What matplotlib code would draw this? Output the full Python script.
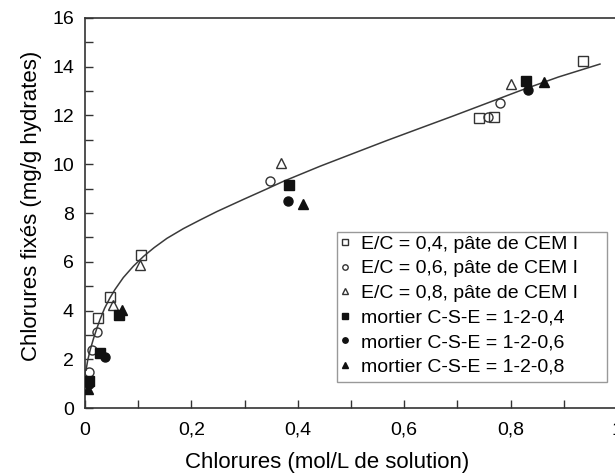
import matplotlib.pyplot as plt
import matplotlib.patches as patches
from matplotlib.ticker import MultipleLocator, FuncFormatter

plt.rcParams['font.family'] = ['Liberation Sans', 'DejaVu Sans']

# -------------------------------------------------
# Data
# -------------------------------------------------
ec04_x = [0.025, 0.047, 0.105, 0.741, 0.769, 0.937]
ec04_y = [3.68, 4.54, 6.28, 11.89, 11.93, 14.24]

ec06_x = [0.008, 0.014, 0.022, 0.348, 0.757, 0.781]
ec06_y = [1.49, 2.38, 3.13, 9.33, 11.93, 12.50]

ec08_x = [0.053, 0.103, 0.368, 0.800]
ec08_y = [4.23, 5.87, 10.04, 13.28]

m04_x = [0.007, 0.029, 0.063, 0.384, 0.829]
m04_y = [1.10, 2.24, 3.82, 9.15, 13.40]

m06_x = [0.008, 0.038, 0.382, 0.833]
m06_y = [1.00, 2.11, 8.48, 13.03]

m08_x = [0.006, 0.069, 0.410, 0.863]
m08_y = [0.80, 4.02, 8.37, 13.36]

# fitted curve, read point by point
curve_x = [0.002, 0.005, 0.010, 0.016, 0.022, 0.028, 0.037, 0.047, 0.056,
           0.072, 0.091, 0.110, 0.130, 0.154, 0.185, 0.216, 0.248, 0.298,
           0.340, 0.373, 0.442, 0.505, 0.567, 0.630, 0.692, 0.755, 0.818,
           0.890, 0.968]
curve_y = [1.55, 1.95, 2.40, 2.85, 3.25, 3.62, 4.10, 4.52, 4.85,
           5.35, 5.82, 6.22, 6.58, 6.96, 7.36, 7.71, 8.06, 8.56,
           8.97, 9.30, 9.92, 10.45, 10.97, 11.48, 11.98, 12.50, 13.02,
           13.58, 14.11]

labels = [
    'E/C = 0,4, pâte de CEM I',
    'E/C = 0,6, pâte de CEM I',
    'E/C = 0,8, pâte de CEM I',
    'mortier C-S-E = 1-2-0,4',
    'mortier C-S-E = 1-2-0,6',
    'mortier C-S-E = 1-2-0,8',
]

# -------------------------------------------------
# Figure
# -------------------------------------------------
fig = plt.figure(figsize=(6.15, 4.73), dpi=100)
ax = fig.add_axes([85 / 615, 65 / 473, 532 / 615, 390 / 473])

line_col = '#3a3a3a'
open_col = '#333333'
fill_col = '#111111'

ax.plot(curve_x, curve_y, color=line_col, lw=1.1, zorder=2)

series = [
    (ec04_x, ec04_y, 's', 'none'),
    (ec06_x, ec06_y, 'o', 'none'),
    (ec08_x, ec08_y, '^', 'none'),
    (m04_x, m04_y, 's', fill_col),
    (m06_x, m06_y, 'o', fill_col),
    (m08_x, m08_y, '^', fill_col),
]
for (xs, ys, mk, fc), lab in zip(series, labels):
    ax.plot(xs, ys, linestyle='none', marker=mk, markersize=6.5,
            markerfacecolor=fc,
            markeredgecolor=open_col if fc == 'none' else fill_col,
            markeredgewidth=1.0, label=lab, zorder=3)

ax.set_xlim(0, 1)
ax.set_ylim(0, 16)
ax.xaxis.set_major_locator(MultipleLocator(0.2))
ax.xaxis.set_minor_locator(MultipleLocator(0.1))
ax.yaxis.set_major_locator(MultipleLocator(2))
ax.yaxis.set_minor_locator(MultipleLocator(1))
ax.xaxis.set_major_formatter(
    FuncFormatter(lambda v, _: ('%g' % round(v, 1)).replace('.', ',')))
ax.tick_params(which='both', direction='in', length=6, width=1.0,
               color='#333333', labelsize=14)
ax.tick_params(axis='y', pad=8)
ax.tick_params(axis='x', pad=10)

for sp in ax.spines.values():
    sp.set_color('#333333')
    sp.set_linewidth(1.2)

ax.set_xlabel('Chlorures (mol/L de solution)', fontsize=16)
ax.set_ylabel('Chlorures fixés (mg/g hydrates)', fontsize=16)
ax.xaxis.set_label_coords(0.456, -0.112)
ax.yaxis.set_label_coords(-0.081, 0.518)

# legend without its own frame; the box in the reference is wider than the text
leg = ax.legend(loc='upper left', bbox_to_anchor=(0.479, 0.443),
                fontsize=14, markerscale=0.6, handlelength=0.5,
                handletextpad=0.6, labelspacing=0.36, borderpad=0,
                borderaxespad=0, frameon=False)
box = patches.Rectangle((0.474, 0.0667), 0.507, 0.3846,
                        transform=ax.transAxes, fill=True, facecolor='white',
                        edgecolor='#999999', lw=1.0, zorder=4)
ax.add_patch(box)
leg.set_zorder(5)

fig.savefig('out.png', dpi=100)
